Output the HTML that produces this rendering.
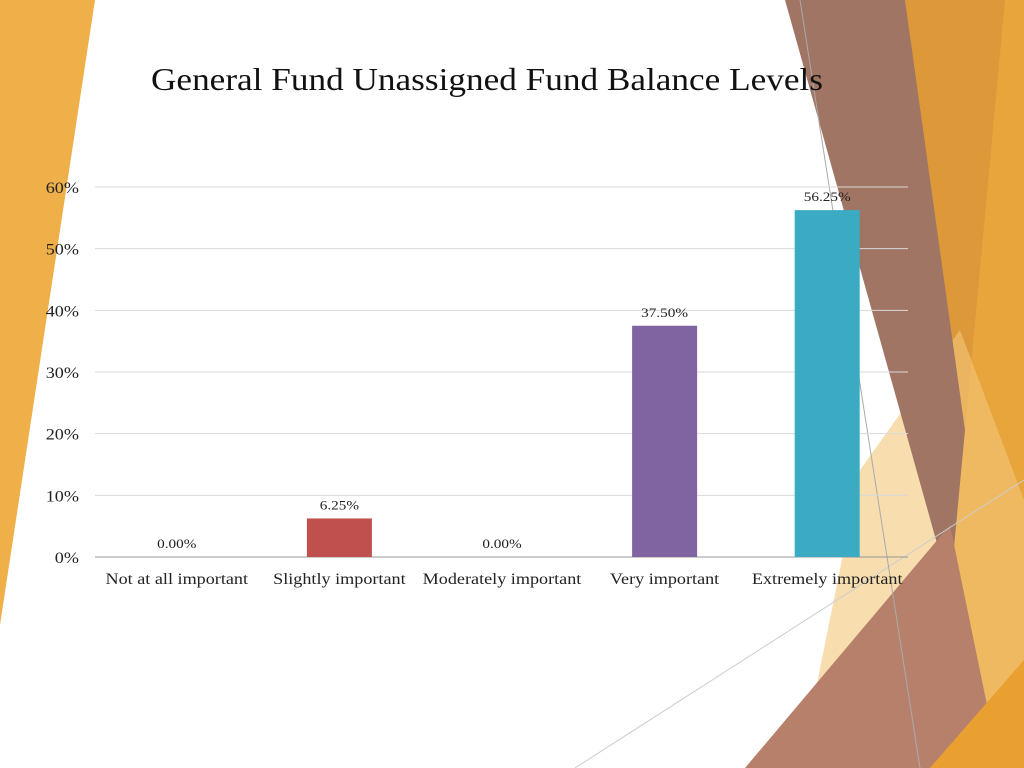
<!DOCTYPE html>
<html><head><meta charset="utf-8"><style>
body{margin:0;width:1024px;height:768px;overflow:hidden;background:#fff;font-family:"Liberation Serif",serif}
svg{position:absolute;left:0;top:0}
</style></head><body>
<svg width="1024" height="768">
<g>
<polygon points="0,0 95,0 0,625" fill="#efb04a"/>
<polygon points="905,0 1024,0 1024,768 930,768 960,420" fill="#e8a53c"/>
<polygon points="905,0 1005,0 965,430" fill="#d99539" opacity="0.8"/>
<polygon points="860,470 960,330 1024,500 1024,768 800,768" fill="#f4c67a" opacity="0.6"/>
<polygon points="785,0 905,0 965,430 950,590" fill="#a07563"/>
<polygon points="745,768 950,525 1000,768" fill="#b7806a"/>
<polygon points="930,768 1024,660 1024,768" fill="#eaa030"/>
<line x1="575" y1="768" x2="1024" y2="480" stroke="#ccc" stroke-width="1"/>
<line x1="800" y1="0" x2="920" y2="768" stroke="#aaa" stroke-width="1"/>
</g>
<text x="487" y="90" font-size="32" text-anchor="middle" textLength="672" lengthAdjust="spacingAndGlyphs" fill="#111">General Fund Unassigned Fund Balance Levels</text>
<g id="grid"></g><g id="bars"></g><g id="labels"></g>
</svg>
<script>
const categories=["Not at all important","Slightly important","Moderately important","Very important","Extremely important"];
const values=[0,6.25,0,37.5,56.25];
const colors=["#4f81bd","#c0504d","#9bbb59","#8064a2","#3aabc3"];
const ticks=[0,10,20,30,40,50,60];
const NS="http://www.w3.org/2000/svg";
const x0=95,x1=908,y0=557,y60=187;
const y=v=>y0-(v/60)*(y0-y60);
const step=(x1-x0)/categories.length;
const cx=i=>x0+step*(i+0.5)+0.5;
const widen=1.17;
function mk(t,a,p){const e=document.createElementNS(NS,t);for(const k in a)e.setAttribute(k,a[k]);p.appendChild(e);return e;}
function stretch(e){const w=e.getComputedTextLength();e.setAttribute('textLength',w*widen);e.setAttribute('lengthAdjust','spacingAndGlyphs');}
const g=document.getElementById('grid'),b=document.getElementById('bars'),l=document.getElementById('labels');
ticks.forEach(t=>{
 const ln=mk('line',{x1:x0,x2:x1,y1:y(t),y2:y(t),stroke:t===0?'#999':'#d9d9d9','stroke-width':1},g);
 
 
 const tx=mk('text',{x:79,y:y(t)+6,'font-size':15.5,'text-anchor':'end',fill:'#222'},g);
 tx.textContent=t+'%';
 
 
 stretch(tx);
});
categories.forEach((c,i)=>{
 const v=values[i];
 const r=mk('rect',{x:cx(i)-32.5,y:y(v),width:65,height:y0-y(v),fill:colors[i]},b);
 
 
 const vt=mk('text',{x:cx(i),y:y(v)-9,'font-size':13,'text-anchor':'middle',fill:'#222'},l);
 vt.textContent=v.toFixed(2)+'%';
 
 
 stretch(vt);
 const ct=mk('text',{x:cx(i),y:584,'font-size':15.5,'text-anchor':'middle',fill:'#222'},l);
 ct.textContent=c;
 
 
 stretch(ct);
});
</script>
</body></html>
